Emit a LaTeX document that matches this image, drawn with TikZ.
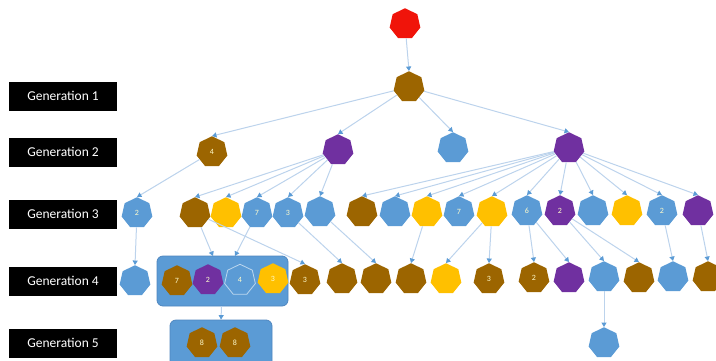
\documentclass[tikz,border=0pt]{standalone}
\usepackage{fontspec}
\setsansfont{Carlito}
\usetikzlibrary{shapes.geometric,arrows.meta}

\definecolor{nred}{HTML}{F0140A}
\definecolor{nbrown}{HTML}{9C6500}
\definecolor{npurple}{HTML}{7030A0}
\definecolor{nblue}{HTML}{5B9BD5}
\definecolor{nyellow}{HTML}{FFC000}
\definecolor{linkblue}{HTML}{BCD3EC}
\definecolor{tipblue}{HTML}{5B9BD5}
\definecolor{boxline}{HTML}{4F86BF}

\begin{document}
\begin{tikzpicture}[x=1pt,y=-1pt,
    hept/.style={regular polygon, regular polygon sides=7, minimum size=31.5pt, inner sep=0pt,
      text=white!80!yellow, font=\sffamily\fontsize{8}{8}\selectfont},
    brn/.style={hept, fill=nbrown},
    ppl/.style={hept, fill=npurple},
    blu/.style={hept, fill=nblue},
    ylw/.style={hept, fill=nyellow},
    gen/.style={fill=black, text=white, minimum width=108pt, minimum height=29pt, inner sep=0pt,
      font=\sffamily\fontsize{13.5}{15}\selectfont},
    grp/.style={fill=nblue, draw=boxline, line width=0.8pt, rounded corners=6pt, inner sep=0pt},
    every edge/.style={draw=linkblue, line width=1pt, -{Triangle[length=4.5pt,width=5pt,color=tipblue]}}]

    \path[use as bounding box] (0,0) rectangle (716,360);
    \clip (0,0) rectangle (716,360);

    % generation labels
    \node[gen] (gen1) at (63,96) {Generation 1};
    \node[gen] (gen2) at (63,152) {Generation 2};
    \node[gen] (gen3) at (63,214) {Generation 3};
    \node[gen] (gen4) at (63,281) {Generation 4};
    \node[gen] (gen5) at (63,343) {Generation 5};

    % groups
    \node[grp, minimum width=131pt, minimum height=50pt] (box4) at (222.5,281) {};
    \node[grp, minimum width=102pt, minimum height=48pt] (box5) at (221,344) {};
    \coordinate (in4a) at (213,256);
    \coordinate (in4b) at (235,256);

    % tree
    \node[hept, fill=nred] (root) at (405,24) {};
    \node[brn] (g1) at (409,87) {};

    \node[brn] (b4) at (212,152) {4};
    \node[ppl] (p2a) at (338,150) {};
    \node[blu] (bl2) at (453,148) {};
    \node[ppl] (p2b) at (569,148) {};

    \node[blu] (c1) at (137,213) {2};
    \node[brn] (c2) at (195,213) {};
    \node[ylw] (c3) at (226,213) {};
    \node[blu] (c4) at (257,213) {7};
    \node[blu] (c5) at (288,213) {3};
    \node[blu] (c6) at (320,212) {};
    \node[brn] (c7) at (362,212) {};
    \node[blu] (c8) at (395,212) {};
    \node[ylw] (c9) at (427,212) {};
    \node[blu] (c10) at (459,212) {7};
    \node[ylw] (c11) at (492,212) {};
    \node[blu] (c12) at (527,211) {6};
    \node[ppl] (c13) at (560,211) {2};
    \node[blu] (c14) at (593,211) {};
    \node[ylw] (c15) at (627,211) {};
    \node[blu] (c16) at (662,211) {2};
    \node[ppl] (c17) at (698,211) {};

    \node[blu] (d1) at (135,281) {};
    \node[brn] (m1) at (177,281) {7};
    \node[ppl] (m2) at (208,280) {2};
    \node[blu, draw=white!60!nblue, line width=0.8pt] (m3) at (240,280) {4};
    \node[ylw] (m4) at (273,279) {3};
    \node[brn] (d2) at (305,280) {3};
    \node[brn] (d3) at (342,279) {};
    \node[brn] (d4) at (376,279) {};
    \node[brn] (d5) at (411,279) {};
    \node[ylw] (d6) at (446,279) {};
    \node[brn] (d7) at (489,279) {3};
    \node[brn] (d8) at (534,278) {2};
    \node[ppl] (d9) at (569,278) {};
    \node[blu] (d10) at (604,277) {};
    \node[brn] (d11) at (639,278) {};
    \node[blu] (d12) at (673,277) {};
    \node[brn] (d13) at (708,277) {};

    \node[brn] (e1) at (202,343) {8};
    \node[brn] (e2) at (235,343) {8};
    \node[blu] (f1) at (604,343) {};

    \path
    (root) edge (g1.north)
    (g1) edge (b4.north)
    (g1) edge (p2a.north)
    (g1) edge (bl2.north)
    (g1) edge (p2b.north)

    (b4) edge (c1.north)
    (p2a) edge (c2.north)
    (p2a) edge (c3.north)
    (p2a) edge (c4.north)
    (p2a) edge (c5.north)
    (p2a) edge (c6.north)
    (p2b) edge (c7.north)
    (p2b) edge (c8.north)
    (p2b) edge (c9.north)
    (p2b) edge (c10.north)
    (p2b) edge (c11.north)
    (p2b) edge (c12.north)
    (p2b) edge (c13.north)
    (p2b) edge (c14.north)
    (p2b) edge (c15.north)
    (p2b) edge (c16.north)
    (p2b) edge (c17.north)

    (c1) edge (d1.north)
    (c2) edge (in4a)
    (c4) edge (in4b)
    (c2) edge (d2.north)
    (c5) edge (d3.north)
    (c6) edge (d4.north)
    (c9) edge (d5.north)
    (c11) edge (d6.north)
    (c11) edge (d7.north)
    (c12) edge (d8.north)
    (c12) edge (d9.north)
    (c13) edge (d10.north)
    (c13) edge (d11.north)
    (c16) edge (d12.north)
    (c17) edge (d13.north)

    (box4) edge (box5.north)
    (d10) edge (f1.north);
\end{tikzpicture}
\end{document}
